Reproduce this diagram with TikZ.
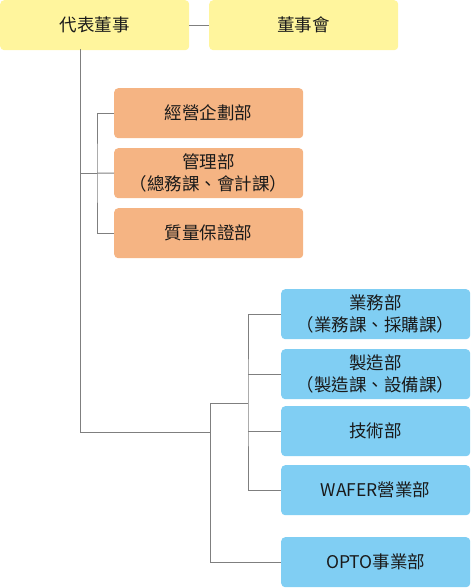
\documentclass[tikz,border=0pt]{standalone}
\usepackage{fontspec}
\setmainfont{Noto Sans CJK TC}
\definecolor{cyellow}{HTML}{FFF59D}
\definecolor{corange}{HTML}{F5B483}
\definecolor{cblue}{HTML}{80CEF3}
\definecolor{cline}{HTML}{7F7F7F}
\definecolor{ctext}{HTML}{1A1A1A}
\begin{document}
\begin{tikzpicture}[x=1pt,y=-1pt,
  box/.style={rounded corners=4pt, minimum width=189pt, minimum height=50pt, inner sep=0pt, align=center, font=\fontsize{17.5}{22}\selectfont, text=ctext, anchor=north west},
  ybox/.style={box, fill=cyellow},
  obox/.style={box, fill=corange},
  bbox/.style={box, fill=cblue},
  conn/.style={draw=cline, line width=1pt}]
\useasboundingbox (0,0) rectangle (471,588);
\node[ybox] (ceo) at (0,0) {代表董事};
\node[ybox] (board) at (209,0) {董事會};
\node[obox] (plan) at (114,88) {經營企劃部};
\node[obox] (admin) at (114,148) {管理部\\（總務課、會計課）};
\node[obox] (qa) at (114,208) {質量保證部};
\node[bbox] (sales) at (281,289) {業務部\\（業務課、採購課）};
\node[bbox] (mfg) at (281,349) {製造部\\（製造課、設備課）};
\node[bbox] (tech) at (281,406) {技術部};
\node[bbox] (wafer) at (281,465) {WAFER營業部};
\node[bbox] (opto) at (281,537) {OPTO事業部};
\coordinate (t1) at (80,49);
\coordinate (t2) at (80,432);
\coordinate (oj) at (97,173);
\coordinate (bj) at (210,432);
\coordinate (bb) at (248,403);
\draw[conn] (ceo.east) -- (board.west);
\draw[conn] (t1) -- (t2) -- (bj);
\draw[conn] (80,173) -- (oj);
\draw[conn] (plan.west) -| (oj) |- (qa.west);
\draw[conn] (oj) -- (admin.west);
\draw[conn] (bj |- bb) -- (bb);
\draw[conn] (bj |- bb) |- (opto.west);
\draw[conn] (sales.west) -| (bb) |- (wafer.west);
\draw[conn] (bb |- mfg.west) -- (mfg.west);
\draw[conn] (bb |- tech.west) -- (tech.west);
\end{tikzpicture}
\end{document}
